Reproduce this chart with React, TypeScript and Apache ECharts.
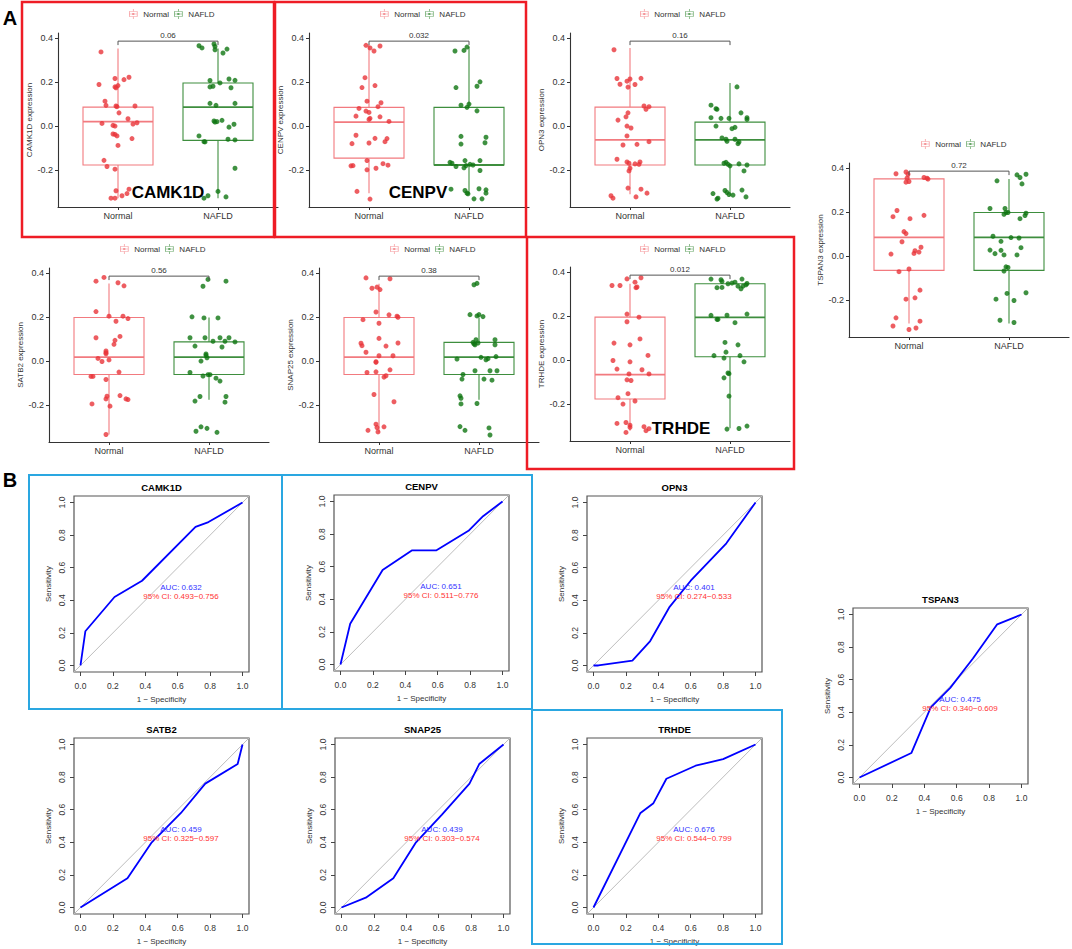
import React, { useEffect, useRef } from "react";
import * as echarts from "echarts";

const FONT = "'Liberation Sans', Arial, Helvetica, sans-serif";

const genes = ["CAMK1D", "CENPV", "OPN3", "TSPAN3", "SATB2", "SNAP25", "TRHDE"];
const groups = ["Normal", "NAFLD"];
const boxYTicks = [-0.2, 0, 0.2, 0.4];
const rocTicks = [0, 0.2, 0.4, 0.6, 0.8, 1];
const pValues = ["0.06", "0.032", "0.16", "0.72", "0.56", "0.38", "0.012"];
const aucValues = ["0.632", "0.651", "0.401", "0.475", "0.459", "0.439", "0.676"];
const ciLow = ["0.493", "0.511", "0.274", "0.340", "0.325", "0.303", "0.544"];
const ciHigh = ["0.756", "0.776", "0.533", "0.609", "0.597", "0.574", "0.799"];
const highlightedGenes = ["CAMK1D", "CENPV", "TRHDE"];

// box statistics: [lower whisker, Q1, median, Q3, upper whisker]
const camk1dNormalBox = [-0.328, -0.177, 0.02, 0.086, 0.352];
const camk1dNafldBox = [-0.328, -0.065, 0.086, 0.196, 0.352];
const cenpvNormalBox = [-0.305, -0.146, 0.018, 0.085, 0.37];
const cenpvNafldBox = [-0.31, -0.177, -0.177, 0.085, 0.36];
const opn3NormalBox = [-0.31, -0.177, -0.063, 0.086, 0.355];
const opn3NafldBox = [-0.317, -0.177, -0.063, 0.018, 0.196];
const tspan3NormalBox = [-0.307, -0.065, 0.085, 0.351, 0.385];
const tspan3NafldBox = [-0.307, -0.065, 0.085, 0.198, 0.35];
const satb2NormalBox = [-0.334, -0.061, 0.018, 0.198, 0.353];
const satb2NafldBox = [-0.176, -0.061, 0.018, 0.087, 0.198];
const snap25NormalBox = [-0.325, -0.061, 0.018, 0.198, 0.351];
const snap25NafldBox = [-0.176, -0.061, 0.018, 0.085, 0.198];
const trhdeNormalBox = [-0.321, -0.177, -0.066, 0.195, 0.347];
const trhdeNafldBox = [-0.31, 0.015, 0.194, 0.347, 0.347];

// sample expression values and horizontal jitter offsets
const camk1dNormalValues = [0.337, 0.189, 0.216, 0.174, 0.178, 0.184, 0.211, 0.222, 0.113, 0.094, 0.091, 0.088, 0.091, 0.06, 0.033, 0.012, 0.003, 0.0, 0.009, 0.015, -0.036, -0.038, -0.045, -0.057, -0.088, -0.156, -0.184, -0.196, -0.294, -0.328, -0.328, -0.317, -0.307, -0.287];
const camk1dNormalJitter = [-0.17, -0.19, -0.03, -0.02, -0.03, 0, 0.06, 0.11, -0.13, -0.12, -0.02, -0.01, 0.17, 0.01, 0.1, -0.16, -0.05, -0.03, 0.15, 0.19, -0.05, -0.03, -0.01, 0.14, 0, -0.14, -0.11, -0.03, -0.02, -0.07, -0.03, 0.04, 0.09, 0.11];
const camk1dNafldValues = [0.365, 0.355, 0.373, 0.362, 0.347, 0.35, 0.332, 0.207, 0.178, 0.181, 0.196, 0.174, 0.214, 0.208, 0.103, 0.094, 0.103, 0.023, 0.018, 0.02, 0.026, -0.005, 0.008, -0.045, -0.071, -0.072, -0.06, -0.063, -0.192, -0.328, -0.317, -0.297, -0.322];
const camk1dNafldJitter = [-0.19, -0.16, -0.04, -0.03, -0.03, 0.09, 0.05, -0.08, -0.08, -0.05, 0.02, 0.13, 0.11, 0.17, -0.08, -0.02, 0.17, -0.04, -0.03, -0.01, 0.04, 0.11, 0.16, -0.19, -0.14, -0.13, 0.1, 0.17, 0.17, -0.14, -0.1, 0, 0.08];

const cenpvNormalValues = [0.367, 0.355, 0.364, 0.341, 0.22, 0.175, 0.184, 0.113, 0.106, 0.08, 0.088, 0.068, 0.062, 0.045, 0.042, 0.035, 0.03, 0.021, -0.042, -0.056, -0.057, -0.08, -0.077, -0.071, -0.181, -0.18, -0.157, -0.192, -0.171, -0.178, -0.297, -0.332, -0.199];
const cenpvNormalJitter = [-0.03, 0.01, 0.11, 0.05, -0.04, -0.07, 0.06, -0.02, 0.12, -0.1, 0.09, -0.03, 0, -0.13, 0.11, 0.01, 0, 0.2, -0.13, 0.06, 0.18, -0.17, 0, 0.16, -0.18, -0.16, -0.02, 0.07, 0.14, 0.19, -0.12, 0.01, -0.02];
const cenpvNafldValues = [0.341, 0.344, 0.359, 0.175, 0.181, 0.201, 0.095, 0.085, 0.1, 0.069, -0.047, -0.082, -0.051, -0.076, -0.165, -0.169, -0.184, -0.19, -0.18, -0.177, -0.157, -0.157, -0.202, -0.287, -0.293, -0.305, -0.308, -0.285, -0.29, -0.305, -0.331, -0.331, -0.174];
const cenpvNafldJitter = [-0.14, -0.05, -0.02, -0.13, 0.08, 0.11, -0.08, -0.02, 0, 0.08, -0.08, -0.08, 0.17, 0.16, -0.19, -0.17, -0.13, -0.05, -0.03, 0.04, -0.04, 0.11, 0.11, -0.18, -0.04, -0.02, -0.01, 0.1, 0.17, 0.17, 0.05, 0.13, 0.01];

const opn3NormalValues = [0.347, 0.216, 0.19, 0.204, 0.214, 0.177, 0.189, 0.217, 0.091, 0.076, 0.088, 0.06, 0.027, 0.042, 0.0, -0.009, -0.045, -0.086, -0.083, -0.071, -0.151, -0.163, -0.169, -0.172, -0.174, -0.192, -0.204, -0.163, -0.317, -0.328, -0.282, -0.322, -0.287, -0.305];
const opn3NormalJitter = [-0.16, -0.13, -0.1, -0.03, 0, -0.02, 0.05, 0.11, 0.14, 0.16, 0.19, -0.02, -0.12, -0.04, -0.03, 0.01, -0.03, -0.07, 0.07, 0.19, -0.13, -0.03, -0.01, 0.05, 0.09, 0, -0.01, 0.1, -0.19, -0.17, -0.02, 0.06, 0.11, 0.17];
const opn3NafldValues = [0.095, 0.079, 0.076, 0.038, 0.035, 0.035, 0.0, -0.006, -0.012, 0.06, 0.038, 0.03, -0.054, -0.06, -0.069, -0.06, -0.08, -0.072, 0.178, -0.169, -0.165, -0.174, -0.181, -0.172, -0.177, -0.204, -0.307, -0.332, -0.328, -0.293, -0.302, -0.311, -0.314, -0.291, -0.322];
const opn3NafldJitter = [-0.19, -0.14, -0.13, -0.19, -0.09, -0.01, -0.14, 0.05, 0.02, 0.11, 0.17, 0.17, -0.08, -0.04, -0.03, 0.05, 0.08, 0.09, 0.07, -0.06, -0.04, -0.02, 0, 0.09, 0.17, 0.14, -0.17, -0.13, -0.12, -0.05, -0.03, -0.01, 0.03, 0.12, 0.16];

const tspan3NormalValues = [0.374, 0.382, 0.372, 0.354, 0.336, 0.339, 0.357, 0.354, 0.35, 0.207, 0.179, 0.185, 0.17, 0.111, 0.102, 0.065, 0.024, 0.012, 0.018, 0.04, 0.009, -0.059, -0.071, -0.196, -0.19, -0.155, -0.281, -0.318, -0.334, -0.327, -0.296];
const tspan3NormalJitter = [-0.13, -0.03, -0.01, -0.02, -0.03, 0, 0.15, 0.18, 0.19, -0.12, -0.16, 0.15, 0.01, -0.05, -0.03, -0.07, 0.06, 0.05, 0.1, 0.12, -0.18, 0, -0.1, -0.03, 0.06, 0.11, -0.13, -0.16, 0, 0.07, 0.11];
const tspan3NafldValues = [0.342, 0.369, 0.357, 0.372, 0.328, 0.216, 0.216, 0.198, 0.19, 0.198, 0.195, 0.184, 0.17, 0.09, 0.084, 0.082, 0.067, 0.038, 0.027, 0.011, 0.026, 0.005, 0.005, -0.049, -0.052, -0.068, -0.17, -0.196, -0.202, -0.167, -0.292, -0.302];
const tspan3NafldJitter = [-0.12, 0.08, 0.11, 0.17, 0.13, -0.19, -0.04, -0.03, -0.05, -0.01, 0.17, 0.16, 0.11, -0.16, 0.02, 0.1, -0.08, 0.12, -0.19, -0.14, -0.08, -0.05, 0.08, -0.03, -0.01, -0.05, -0.02, -0.13, 0.05, 0.17, -0.09, 0.05];

const satb2NormalValues = [0.38, 0.363, 0.356, 0.342, 0.225, 0.204, 0.204, 0.193, 0.181, 0.106, 0.112, 0.094, 0.076, 0.046, 0.038, 0.033, 0.012, -0.002, 0.005, -0.05, -0.07, -0.07, -0.084, -0.172, -0.16, -0.157, -0.172, -0.175, -0.195, -0.205, -0.334];
const satb2NormalJitter = [-0.05, -0.13, 0.09, 0.15, -0.13, 0, 0.14, 0.19, 0.07, -0.13, 0.11, 0.06, 0.05, -0.03, -0.03, -0.03, -0.11, -0.07, 0, 0.1, -0.18, -0.16, -0.03, -0.03, -0.02, 0.11, 0.17, 0.19, -0.17, 0.01, -0.03];
const satb2NafldValues = [0.371, 0.34, 0.363, 0.201, 0.196, 0.196, 0.106, 0.106, 0.106, 0.106, 0.068, 0.09, 0.064, 0.09, 0.087, 0.032, 0.026, 0.015, 0.0, -0.052, -0.068, -0.062, -0.062, -0.078, -0.091, -0.161, -0.182, -0.161, -0.187, -0.319, -0.299, -0.306, -0.324];
const satb2NafldJitter = [-0.01, -0.06, 0.17, -0.17, -0.05, 0.09, -0.19, -0.04, 0.11, 0.2, -0.14, 0.04, 0.13, 0.16, 0.26, -0.03, -0.03, -0.02, -0.08, -0.19, -0.06, -0.01, 0.01, 0.07, 0.11, -0.09, -0.14, 0.17, 0.16, -0.13, -0.08, -0.02, 0.08];

const snap25NormalValues = [0.378, 0.374, 0.331, 0.336, 0.325, 0.223, 0.21, 0.204, 0.199, 0.188, 0.172, 0.081, 0.07, 0.103, 0.068, 0.082, 0.04, -0.003, -0.006, 0.024, 0.024, -0.052, -0.049, -0.073, -0.067, -0.04, -0.152, -0.185, -0.287, -0.302, -0.322, -0.299, -0.315];
const snap25NormalJitter = [-0.13, 0.11, -0.07, -0.02, 0.01, -0.03, 0.1, 0.18, 0.19, -0.16, 0, -0.18, -0.17, 0, 0.07, 0.19, -0.13, -0.03, -0.03, 0, 0.14, -0.12, -0.03, 0.05, 0.07, 0.11, -0.05, 0.15, -0.03, -0.02, -0.01, 0.05, -0.11];
const snap25NafldValues = [0.347, 0.353, 0.211, 0.205, 0.211, 0.202, 0.097, 0.078, 0.074, 0.082, 0.097, 0.074, 0.085, 0.009, 0.017, 0.006, 0.011, 0.02, -0.061, -0.082, -0.044, -0.082, -0.044, -0.087, -0.044, -0.158, -0.169, -0.195, -0.193, -0.298, -0.315, -0.304, -0.336];
const snap25NafldJitter = [-0.05, -0.02, -0.09, -0.02, 0, 0.04, -0.03, -0.05, -0.04, -0.01, 0.16, 0.16, -0.06, -0.22, 0.02, 0.07, 0.09, 0.17, -0.16, -0.17, -0.04, 0.05, 0.11, 0.13, 0.18, -0.19, -0.18, -0.18, -0.02, -0.19, -0.14, 0.1, 0.11];

const trhdeNormalValues = [0.369, 0.374, 0.354, 0.332, 0.329, 0.339, 0.339, 0.209, 0.174, 0.195, 0.077, 0.069, 0.096, -0.002, -0.008, 0.021, -0.041, -0.063, -0.044, -0.063, -0.09, -0.093, -0.153, -0.171, -0.186, -0.2, -0.288, -0.284, -0.296, -0.306, -0.329, -0.303, -0.321, -0.312];
const trhdeNormalJitter = [-0.03, 0.11, 0.05, 0.07, 0.06, -0.18, -0.1, -0.03, -0.03, 0.09, -0.16, 0, 0.1, -0.17, 0, 0.18, -0.13, -0.01, 0.12, 0.19, -0.03, 0.01, -0.02, -0.12, 0.05, -0.07, -0.13, -0.04, 0, 0, -0.04, 0.14, 0.16, 0.19];
const trhdeNafldValues = [0.368, 0.365, 0.357, 0.329, 0.33, 0.347, 0.35, 0.354, 0.368, 0.336, 0.336, 0.324, 0.342, 0.348, 0.203, 0.185, 0.185, 0.204, 0.17, 0.209, 0.02, 0.009, 0.036, 0.08, 0.069, 0.02, -0.008, -0.081, -0.059, -0.062, -0.164, -0.314, -0.311, -0.3];
const trhdeNafldJitter = [-0.19, -0.09, -0.08, -0.13, -0.08, -0.02, 0.02, 0.05, 0.12, 0.13, 0.08, 0.11, 0.16, 0.17, -0.19, -0.13, -0.12, -0.03, 0.05, 0.17, -0.16, -0.06, -0.04, -0.05, 0.08, 0.1, 0.14, -0.06, -0.02, -0.01, -0.01, -0.03, 0.09, 0.17];

// ROC curves: [1 - specificity, sensitivity]
const camk1dRoc = [[0, 0], [0.03, 0.21], [0.21, 0.42], [0.38, 0.52], [0.71, 0.85], [0.79, 0.88], [1, 1]];
const cenpvRoc = [[0, 0], [0.06, 0.25], [0.26, 0.58], [0.44, 0.7], [0.59, 0.7], [0.79, 0.82], [0.88, 0.91], [1, 1]];
const opn3Roc = [[0, 0], [0.03, 0], [0.24, 0.03], [0.35, 0.15], [0.47, 0.36], [0.6, 0.52], [0.82, 0.75], [1, 1]];
const tspan3Roc = [[0, 0], [0.32, 0.15], [0.44, 0.43], [0.56, 0.55], [0.7, 0.73], [0.85, 0.94], [1, 1]];
const satb2Roc = [[0, 0], [0.29, 0.18], [0.44, 0.4], [0.5, 0.46], [0.62, 0.58], [0.77, 0.76], [0.97, 0.88], [1, 1]];
const snap25Roc = [[0, 0], [0.15, 0.06], [0.32, 0.18], [0.46, 0.4], [0.62, 0.57], [0.79, 0.76], [0.85, 0.88], [1, 1]];
const trhdeRoc = [[0, 0], [0.29, 0.58], [0.37, 0.64], [0.45, 0.79], [0.63, 0.87], [0.8, 0.91], [1, 1]];

const boxStats = [
  [camk1dNormalBox, camk1dNafldBox],
  [cenpvNormalBox, cenpvNafldBox],
  [opn3NormalBox, opn3NafldBox],
  [tspan3NormalBox, tspan3NafldBox],
  [satb2NormalBox, satb2NafldBox],
  [snap25NormalBox, snap25NafldBox],
  [trhdeNormalBox, trhdeNafldBox],
];
const pointSets = [
  [[camk1dNormalValues, camk1dNormalJitter], [camk1dNafldValues, camk1dNafldJitter]],
  [[cenpvNormalValues, cenpvNormalJitter], [cenpvNafldValues, cenpvNafldJitter]],
  [[opn3NormalValues, opn3NormalJitter], [opn3NafldValues, opn3NafldJitter]],
  [[tspan3NormalValues, tspan3NormalJitter], [tspan3NafldValues, tspan3NafldJitter]],
  [[satb2NormalValues, satb2NormalJitter], [satb2NafldValues, satb2NafldJitter]],
  [[snap25NormalValues, snap25NormalJitter], [snap25NafldValues, snap25NafldJitter]],
  [[trhdeNormalValues, trhdeNormalJitter], [trhdeNafldValues, trhdeNafldJitter]],
];
const rocCurves = [camk1dRoc, cenpvRoc, opn3Roc, tspan3Roc, satb2Roc, snap25Roc, trhdeRoc];

// ---------- layout / style (not data) ----------
const BOX_W = 220;
const BOX_H = 174;
const boxLayout = [
  [58, 33], [309, 33], [570, 33], [849, 163],
  [49, 268], [319, 268], [570, 267],
];
const legendLayout = [
  [129, 9], [380, 9], [640, 9], [921, 139],
  [120, 244], [390, 244], [640, 244],
];
const ROC_W = 175;
const ROC_H = 176;
const rocLayout = [
  [74, 496], [334, 495], [587, 496], [853, 608],
  [74, 738], [335, 738], [587, 738],
];
const bigLabelLayout = [[168, 192], [418, 192], [681, 428]];
const redFrames = [[22, 2, 252, 235], [275, 2, 251, 235], [527, 237, 267, 232]];
const blueFrames = [[29, 475, 253, 234], [282, 475, 250, 234], [532, 710, 250, 234]];

const pointColors = ["#E8343A", "#0F7512"];
const boxColors = ["#F27A7F", "#3E8E3E"];
const LEGEND_ICON =
  "path://M1,3H13V11H1Z M2,4V10H12V4Z M1,6.5H13V7.5H1Z M6.5,0H7.5V3H6.5Z M6.5,11H7.5V14H6.5Z M5.5,5.5H8.5V8.5H5.5Z";

function buildOption() {
  const grid: any[] = [];
  const xAxis: any[] = [];
  const yAxis: any[] = [];
  const series: any[] = [];
  const legend: any[] = [];
  const graphic: any[] = [];

  genes.forEach((gene, i) => {
    const [left, top] = boxLayout[i];
    grid.push({ left, top, width: BOX_W, height: BOX_H, containLabel: false });
    xAxis.push({
      type: "value",
      gridIndex: i,
      min: 0.4,
      max: 2.6,
      splitLine: { show: false },
      axisLine: { show: true, onZero: false, lineStyle: { color: "#333", width: 1.1 } },
      axisTick: { show: true, length: 3, customValues: [1, 2], lineStyle: { color: "#333" } },
      axisLabel: {
        show: true,
        customValues: [1, 2],
        formatter: (v: number) => groups[Math.round(v) - 1] || "",
        fontSize: 9,
        color: "#333",
        margin: 4,
        fontFamily: FONT,
      },
    });
    yAxis.push({
      type: "value",
      gridIndex: i,
      min: -0.368,
      max: 0.423,
      splitLine: { show: false },
      axisLine: { show: true, onZero: false, lineStyle: { color: "#333", width: 1.1 } },
      axisTick: { show: true, length: 3, customValues: boxYTicks, lineStyle: { color: "#333" } },
      axisLabel: {
        show: true,
        customValues: boxYTicks,
        formatter: (v: number) => v.toFixed(1),
        fontSize: 9,
        color: "#333",
        margin: 5,
        fontFamily: FONT,
      },
      name: gene + " expression",
      nameLocation: "middle",
      nameGap: 24,
      nameTextStyle: { fontSize: 8, color: "#333", fontFamily: FONT },
    });

    // boxes
    series.push({
      type: "custom",
      name: "box-" + gene,
      xAxisIndex: i,
      yAxisIndex: i,
      silent: true,
      z: 2,
      encode: { x: 0, y: [1, 2, 3, 4, 5] },
      data: boxStats[i].map((b, g) => [g + 1, ...b, g]),
      renderItem: (params: any, api: any) => {
        const x = api.value(0);
        const g = api.value(6);
        const c = boxColors[g];
        const lo = api.coord([x, api.value(1)]);
        const q1 = api.coord([x - 0.35, api.value(2)]);
        const md = api.coord([x, api.value(3)]);
        const q3 = api.coord([x + 0.35, api.value(4)]);
        const hi = api.coord([x, api.value(5)]);
        return {
          type: "group",
          children: [
            { type: "line", shape: { x1: lo[0], y1: lo[1], x2: lo[0], y2: q1[1] }, style: { stroke: c, lineWidth: 1.1 } },
            { type: "line", shape: { x1: hi[0], y1: hi[1], x2: hi[0], y2: q3[1] }, style: { stroke: c, lineWidth: 1.1 } },
            {
              type: "rect",
              shape: { x: q1[0], y: q3[1], width: q3[0] - q1[0], height: q1[1] - q3[1] },
              style: { fill: "none", stroke: c, lineWidth: 1.1 },
            },
            { type: "line", shape: { x1: q1[0], y1: md[1], x2: q3[0], y2: md[1] }, style: { stroke: c, lineWidth: 1.8 } },
          ],
        };
      },
    });

    // jittered points
    groups.forEach((grp, g) => {
      const [vals, jit] = pointSets[i][g];
      const n = Math.min(vals.length, jit.length);
      const data: number[][] = [];
      for (let k = 0; k < n; k++) data.push([g + 1 + jit[k], vals[k]]);
      series.push({
        type: "scatter",
        name: grp,
        xAxisIndex: i,
        yAxisIndex: i,
        symbol: "circle",
        symbolSize: 5,
        itemStyle: { color: pointColors[g] },
        z: 3,
        silent: true,
        data,
      });
    });

    // p-value bracket
    series.push({
      type: "custom",
      name: "p-" + gene,
      xAxisIndex: i,
      yAxisIndex: i,
      silent: true,
      z: 4,
      encode: { x: [0, 1], y: 2 },
      data: [[1, 2, 0.386, 0.368]],
      renderItem: (params: any, api: any) => {
        const a = api.coord([api.value(0), api.value(3)]);
        const b = api.coord([api.value(0), api.value(2)]);
        const c = api.coord([api.value(1), api.value(2)]);
        const d = api.coord([api.value(1), api.value(3)]);
        return {
          type: "group",
          children: [
            {
              type: "polyline",
              shape: { points: [a, b, c, d] },
              style: { stroke: "#555", lineWidth: 1, fill: "none" },
            },
            {
              type: "text",
              x: (b[0] + c[0]) / 2,
              y: b[1] - 1.5,
              style: {
                text: pValues[i],
                align: "center",
                textAlign: "center",
                verticalAlign: "bottom",
                textVerticalAlign: "bottom",
                fontSize: 8,
                fill: "#333",
                fontFamily: FONT,
              },
            },
          ],
        };
      },
    });

    legend.push({
      left: legendLayout[i][0],
      top: legendLayout[i][1],
      padding: 0,
      itemWidth: 10,
      itemHeight: 10,
      itemGap: 5,
      selectedMode: false,
      textStyle: { fontSize: 8, color: "#333", fontFamily: FONT },
      data: groups.map((grp, g) => ({ name: grp, icon: LEGEND_ICON, itemStyle: { color: boxColors[g] } })),
    });
  });

  // ROC panels
  genes.forEach((gene, j) => {
    const gi = genes.length + j;
    const [left, top] = rocLayout[j];
    grid.push({ left, top, width: ROC_W, height: ROC_H, show: true, borderColor: "#555", borderWidth: 1.2, backgroundColor: "transparent" });
    xAxis.push({
      type: "value",
      gridIndex: gi,
      min: -0.04,
      max: 1.04,
      splitLine: { show: false },
      axisLine: { show: false, onZero: false },
      axisTick: { show: true, length: 4, customValues: rocTicks, lineStyle: { color: "#444" } },
      axisLabel: {
        customValues: rocTicks,
        formatter: (v: number) => v.toFixed(1),
        fontSize: 8.5,
        color: "#333",
        margin: 9,
        fontFamily: FONT,
      },
      name: "1 \u2212 Specificity",
      nameLocation: "middle",
      nameGap: 23,
      nameTextStyle: { fontSize: 8, color: "#333", fontFamily: FONT },
    });
    yAxis.push({
      type: "value",
      gridIndex: gi,
      min: -0.04,
      max: 1.04,
      splitLine: { show: false },
      axisLine: { show: false, onZero: false },
      axisTick: { show: true, length: 4, customValues: rocTicks, lineStyle: { color: "#444" } },
      axisLabel: {
        customValues: rocTicks,
        formatter: (v: number) => v.toFixed(1),
        rotate: 90,
        fontSize: 8.5,
        color: "#333",
        margin: 8,
        fontFamily: FONT,
      },
      name: "Sensitivity",
      nameLocation: "middle",
      nameGap: 22,
      nameTextStyle: { fontSize: 8, color: "#333", fontFamily: FONT },
    });
    series.push({
      type: "line",
      name: "diag-" + gene,
      xAxisIndex: gi,
      yAxisIndex: gi,
      data: [[-0.04, -0.04], [1.04, 1.04]],
      symbol: "none",
      silent: true,
      lineStyle: { color: "#BDBDBD", width: 1 },
      z: 2,
    });
    series.push({
      type: "line",
      name: "roc-" + gene,
      xAxisIndex: gi,
      yAxisIndex: gi,
      data: rocCurves[j],
      symbol: "none",
      silent: true,
      lineStyle: { color: "#0000FF", width: 1.8 },
      z: 3,
    });
    series.push({
      type: "custom",
      name: "auc-" + gene,
      xAxisIndex: gi,
      yAxisIndex: gi,
      silent: true,
      z: 4,
      encode: { x: 0, y: [1, 2] },
      data: [[0.62, 0.48, 0.425]],
      renderItem: (params: any, api: any) => {
        const p1 = api.coord([api.value(0), api.value(1)]);
        const p2 = api.coord([api.value(0), api.value(2)]);
        return {
          type: "group",
          children: [
            {
              type: "text",
              x: p1[0],
              y: p1[1],
              style: {
                text: "AUC: " + aucValues[j],
                align: "center",
                textAlign: "center",
                verticalAlign: "middle",
                textVerticalAlign: "middle",
                fontSize: 8,
                fill: "#3333FF",
                fontFamily: FONT,
              },
            },
            {
              type: "text",
              x: p2[0],
              y: p2[1],
              style: {
                text: "95% CI: " + ciLow[j] + "\u2212" + ciHigh[j],
                align: "center",
                textAlign: "center",
                verticalAlign: "middle",
                textVerticalAlign: "middle",
                fontSize: 8,
                fill: "#FF3333",
                fontFamily: FONT,
              },
            },
          ],
        };
      },
    });
    graphic.push({
      type: "text",
      x: left + ROC_W / 2,
      y: top - 9,
      style: {
        text: gene,
        align: "center",
        textAlign: "center",
        verticalAlign: "middle",
        textVerticalAlign: "middle",
        fontSize: 9.5,
        fontWeight: "bold",
        fill: "#000",
        fontFamily: FONT,
      },
    });
  });

  highlightedGenes.forEach((gene, k) => {
    const [cx, cy] = bigLabelLayout[k];
    graphic.push({
      type: "text",
      x: cx,
      y: cy,
      z: 20,
      style: {
        text: gene,
        align: "center",
        textAlign: "center",
        verticalAlign: "middle",
        textVerticalAlign: "middle",
        fontSize: 17,
        fontWeight: "bold",
        fill: "#000",
        fontFamily: FONT,
      },
    });
  });

  redFrames.forEach(([x, y, w, h]) => {
    graphic.push({ type: "rect", z: 30, shape: { x, y, width: w, height: h }, style: { fill: "none", stroke: "#EE1C25", lineWidth: 2.5 } });
  });
  blueFrames.forEach(([x, y, w, h]) => {
    graphic.push({ type: "rect", z: 30, shape: { x, y, width: w, height: h }, style: { fill: "none", stroke: "#2AA7E1", lineWidth: 2 } });
  });
  graphic.push({
    type: "text", x: 10, y: 18, z: 30,
    style: { text: "A", align: "center", textAlign: "center", verticalAlign: "middle", textVerticalAlign: "middle", fontSize: 20, fontWeight: "bold", fill: "#000", fontFamily: FONT },
  });
  graphic.push({
    type: "text", x: 10, y: 480, z: 30,
    style: { text: "B", align: "center", textAlign: "center", verticalAlign: "middle", textVerticalAlign: "middle", fontSize: 20, fontWeight: "bold", fill: "#000", fontFamily: FONT },
  });

  return {
    animation: false,
    backgroundColor: "#ffffff",
    textStyle: { fontFamily: FONT },
    grid,
    xAxis,
    yAxis,
    legend,
    series,
    graphic: { elements: graphic },
  };
}

export default function App() {
  const ref = useRef<HTMLDivElement>(null);
  useEffect(() => {
    if (!ref.current) return;
    const chart = echarts.init(ref.current, null, { renderer: "svg" });
    chart.setOption(buildOption() as any);
    return () => chart.dispose();
  }, []);
  return (
    <div
      ref={ref}
      style={{ position: "absolute", left: 0, top: 0, width: 1072, height: 949, background: "#fff" }}
    />
  );
}
